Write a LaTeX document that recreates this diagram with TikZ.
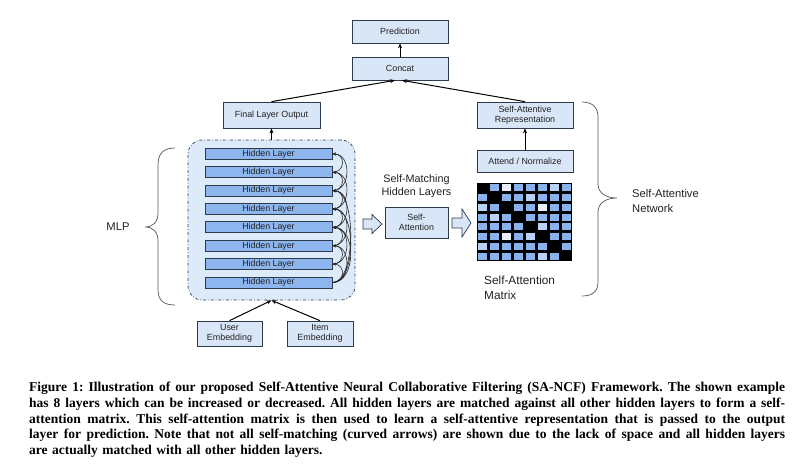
\documentclass[tikz,border=0pt]{standalone}
\usepackage{fontspec}
\setmainfont{Liberation Serif}
\newfontfamily\diafont{Liberation Sans}
\usetikzlibrary{arrows.meta}
\definecolor{boxfill}{HTML}{D9E6F8}
\definecolor{boxline}{HTML}{2E3B4A}
\definecolor{layerfill}{HTML}{8DB5EE}
\definecolor{contfill}{HTML}{DDEAF9}
\definecolor{cellK}{HTML}{000000}
\definecolor{cellA}{HTML}{8AB3EE}
\definecolor{cellB}{HTML}{B9D1F5}
\definecolor{cellC}{HTML}{E8EFFB}
\definecolor{bracecol}{HTML}{555555}
\definecolor{txt}{HTML}{222222}
\frenchspacing
\newcommand\capline[1]{\leavevmode\hbox to 756pt{\spaceskip=0.25em plus 1em minus 0.1em\relax #1}}
\begin{document}
\begin{tikzpicture}[x=1pt,y=-1pt,
  lbox/.style={draw=boxline, fill=boxfill, line width=0.7pt, text=txt,
    font=\diafont\fontsize{8.9}{10.5}\selectfont, align=center, inner sep=0pt},
  hlayer/.style={draw=boxline, fill=layerfill, line width=0.9pt, text=txt,
    minimum width=127pt, minimum height=11pt, inner sep=0pt,
    font=\diafont\fontsize{8.8}{10}\selectfont},
  container/.style={draw=boxline, fill=contfill, line width=0.7pt, dash dot,
    rounded corners=14pt, minimum width=167pt, minimum height=160pt, inner sep=0pt},
  arr/.style={-{Stealth[length=5pt,width=4pt]}, line width=1pt, draw=black},
  carr/.style={-{Stealth[length=3.5pt,width=3pt]}, line width=0.6pt, draw=black!85},
  hollow/.style={draw=boxline, fill=boxfill, line width=0.7pt, line join=miter},
  bracepath/.style={draw=bracecol, line width=0.7pt},
  lbl/.style={text=txt, inner sep=0pt}
]
\useasboundingbox[fill=white] (0,0) rectangle (800,471);

% top boxes
\node[lbox, minimum width=96pt, minimum height=23pt] (pred) at (400,31.5) {Prediction};
\node[lbox, minimum width=96pt, minimum height=23pt] (concat) at (400,68.5) {Concat};
\node[lbox, minimum width=97pt, minimum height=26pt] (final) at (271.5,115) {Final Layer Output};
\node[lbox, minimum width=96pt, minimum height=26pt] (sar) at (525,115) {Self-Attentive\\Representation};
\node[lbox, minimum width=96pt, minimum height=22pt] (attend) at (525,161) {Attend / Normalize};

% MLP container
\node[container] (mlp) at (271.5,220) {};
\foreach \i in {1,...,8} {
  \node[hlayer] (L\i) at (268.5,{154+(\i-1)*18.36}) {Hidden Layer};
}
% self-matching curves
\foreach \i in {1,...,7} {
  \pgfmathtruncatemacro\j{\i+1}
  \draw[carr] (L\j.east) .. controls +(13,0) and +(13,0) .. (L\i.east);
}
\foreach \i in {1,...,6} {
  \pgfmathtruncatemacro\j{\i+2}
  \draw[carr] (L\j.east) .. controls +(19,0) and +(19,0) .. (L\i.east);
}
\foreach \i in {3,4,5} {
  \draw[carr] (L8.east) .. controls +(24,0) and +(24,0) .. (L\i.east);
}

% embeddings
\node[lbox, minimum width=65pt, minimum height=25pt] (user) at (229.5,333.5) {User\\Embedding};
\node[lbox, minimum width=66pt, minimum height=25pt] (item) at (320,333.5) {Item\\Embedding};

% self-attention
\node[lbl, font=\diafont\fontsize{10.8}{13}\selectfont, align=center] (smh) at (416.5,186.5) {Self-Matching\\Hidden Layers};
\node[lbox, minimum width=63pt, minimum height=31pt] (satt) at (416.5,222.5) {Self-\\Attention};

% hollow arrows
\draw[hollow] (363,219) -- (372,219) -- (372,214.5) -- (382,224) -- (372,233.5) -- (372,229) -- (363,229) -- cycle;
\draw[hollow] (452,218) -- (462,218) -- (462,209) -- (471,223) -- (462,237) -- (462,228) -- (452,228) -- cycle;

% matrix
\fill[black] (477,183) rectangle (572,261);
\foreach \row [count=\r] in {{K,A,C,A,A,A,B,A},{A,K,A,A,B,A,A,A},{B,A,K,A,A,C,A,A},{A,B,A,K,A,A,A,A},{A,A,A,A,K,B,A,A},{A,A,C,A,B,K,A,A},{B,A,A,A,A,A,K,A},{A,A,A,A,A,B,A,K}} {
  \foreach \c [count=\cc] in \row {
    \fill[cell\c] ({477+(\cc-1)*11.875+1.4},{183+(\r-1)*9.75+1.3}) rectangle ({477+\cc*11.875-1.4},{183+\r*9.75-1.3});
  }
}
\node[lbl, font=\diafont\fontsize{11.8}{15.5}\selectfont, align=left, anchor=west] (sam) at (484,288) {Self-Attention\\Matrix};

% connectors
\draw[arr] (concat.north) -- (pred.south);
\draw[arr] (final.north) -- ([xshift=-5pt]concat.south);
\draw[arr] (sar.north) -- ([xshift=2pt]concat.south);
\draw[arr] (mlp.north) -- (final.south);
\draw[arr] (attend.north) -- (sar.south);
\draw[arr] (user.north) -- (mlp.south);
\draw[arr] (item.north) -- (mlp.south);

% braces
\draw[bracepath] (175,148) .. controls (163,148) and (158,154) .. (158,165) -- (158,213)
  .. controls (158,222) and (153,227) .. (145,227)
  .. controls (153,227) and (158,232) .. (158,241) -- (158,289)
  .. controls (158,300) and (163,305) .. (175,305);
\node[lbl, font=\diafont\fontsize{11.2}{13}\selectfont] (mlplbl) at (118,227) {MLP};

\draw[bracepath] (582,102) .. controls (593,102) and (598,108) .. (598,117) -- (598,184)
  .. controls (598,193) and (606,198) .. (617,198)
  .. controls (606,198) and (598,203) .. (598,212) -- (598,282)
  .. controls (598,291) and (593,296) .. (582,296);
\node[lbl, font=\diafont\fontsize{11.2}{15}\selectfont, align=left, anchor=west] (san) at (632,200.5) {Self-Attentive\\Network};

% caption
\node[lbl, anchor=north west, text width=756pt, align=left, text=black,
  font=\bfseries\fontsize{13.5}{15.9}\selectfont] (cap) at (29,381.5) {%
\capline{Figure 1: Illustration of our proposed Self-Attentive Neural Collaborative Filtering (SA-NCF) Framework. The shown example}\\
\capline{has 8 layers which can be increased or decreased. All hidden layers are matched against all other hidden layers to form a self-}\\
\capline{attention matrix. This self-attention matrix is then used to learn a self-attentive representation that is passed to the output}\\
\capline{layer for prediction. Note that not all self-matching (curved arrows) are shown due to the lack of space and all hidden layers}\\
are actually matched with all other hidden layers.};
\end{tikzpicture}
\end{document}
